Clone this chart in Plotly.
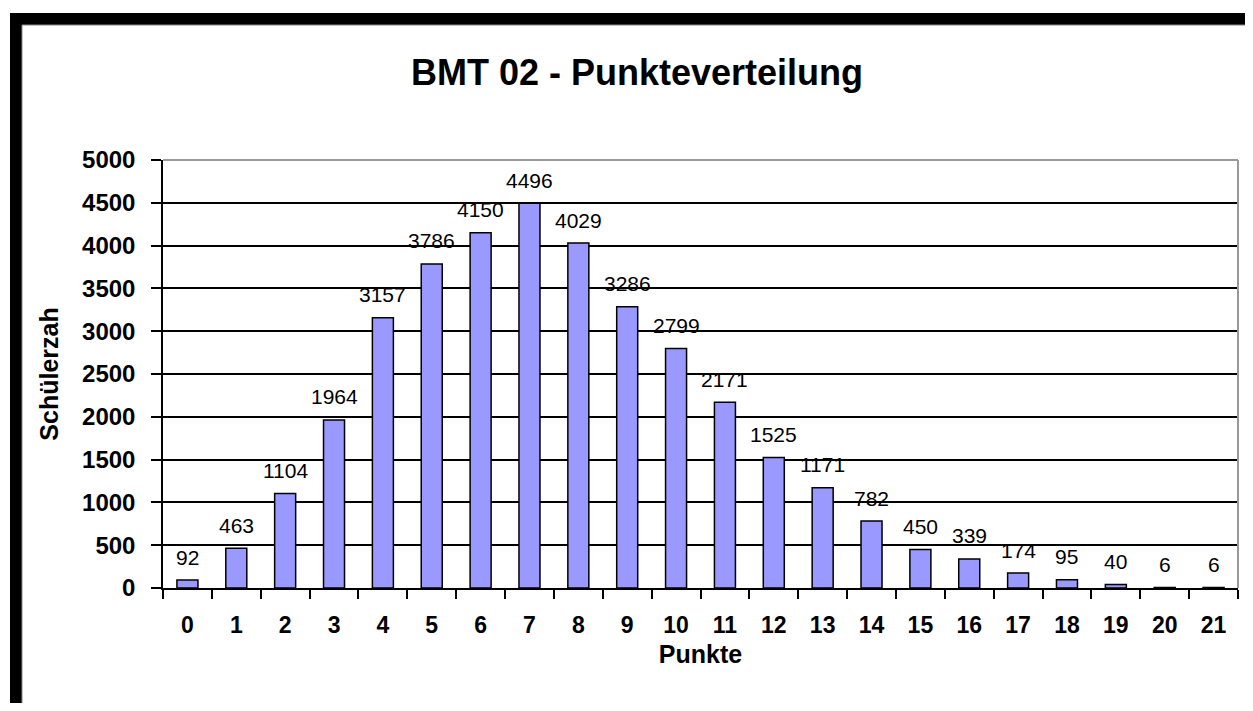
import plotly.graph_objects as go

# Data
punkte = [str(i) for i in range(22)]
schueler = [92, 463, 1104, 1964, 3157, 3786, 4150, 4496, 4029, 3286, 2799,
            2171, 1525, 1171, 782, 450, 339, 174, 95, 40, 6, 6]
title_text = "BMT 02 - Punkteverteilung"
x_title = "Punkte"
y_title = "Schülerzah"

# page body has an 8px margin; figure coords = screen coords - 8
W, H = 1245, 695
L, R, T, B = 155, 15, 152, 115
pw, ph = W - L - R, H - T - B

def px(x):  # screen x -> paper
    return (x - 8 - L) / pw

def py(y):  # screen y -> paper
    return (H - B - (y - 8)) / ph

FONT = "Liberation Sans, Arial, sans-serif"

fig = go.Figure()
fig.add_trace(go.Bar(
    x=punkte, y=schueler,
    marker=dict(color="#9999FF", line=dict(color="black", width=1.5)),
    hoverinfo="x+y",
))

annotations = []
for c, v in zip(punkte, schueler):
    annotations.append(dict(
        x=c, y=v, xref="x", yref="y", text=str(v), showarrow=False,
        yanchor="middle", yshift=23,
        font=dict(family=FONT, size=21, color="black"),
    ))

shapes = [
    # black outer frame
    dict(type="rect", xref="paper", yref="paper", layer="below",
         x0=px(10), x1=px(1300), y0=py(13), y1=py(760),
         fillcolor="black", line=dict(width=0)),
    # white chart area
    dict(type="rect", xref="paper", yref="paper", layer="below",
         x0=px(22), x1=px(1300), y0=py(25), y1=py(707),
         fillcolor="white", line=dict(color="#888888", width=1)),
    # plot area border (top & right)
    dict(type="line", xref="paper", yref="paper", layer="above",
         x0=0, x1=1, y0=1, y1=1, line=dict(color="#999999", width=2)),
    dict(type="line", xref="paper", yref="paper", layer="above",
         x0=1, x1=1, y0=0, y1=1, line=dict(color="#999999", width=2)),
]

fig.update_layout(
    width=W, height=H,
    margin=dict(l=L, r=R, t=T, b=B, pad=0),
    paper_bgcolor="white", plot_bgcolor="white",
    showlegend=False,
    bargap=0.57,
    title=dict(text=title_text, xref="paper", x=px(637), xanchor="center",
               yref="container", y=1 - (72 - 8) / H, yanchor="middle",
               font=dict(family=FONT, size=36, color="black", weight="bold")),
    annotations=annotations,
    shapes=shapes,
    xaxis=dict(
        type="category", showline=True, linecolor="black", linewidth=1.5,
        ticks="outside", ticklen=9, tickwidth=1.5, tickcolor="black",
        tickson="boundaries", showgrid=False, ticklabelstandoff=16,
        tickfont=dict(family=FONT, size=23, color="black", weight="bold"),
        title=dict(text=x_title, standoff=8,
                   font=dict(family=FONT, size=25, color="black", weight="bold")),
    ),
    yaxis=dict(
        range=[0, 5000], dtick=500, showline=True, linecolor="black", linewidth=1.5,
        ticks="outside", ticklen=10, tickwidth=1.5, tickcolor="black",
        showgrid=True, gridcolor="black", gridwidth=1.5, zeroline=False,
        ticklabelstandoff=11,
        tickfont=dict(family=FONT, size=24, color="black", weight="bold"),
        title=dict(text=y_title, standoff=16,
                   font=dict(family=FONT, size=25, color="black", weight="bold")),
    ),
)

fig.write_html("out.html")
